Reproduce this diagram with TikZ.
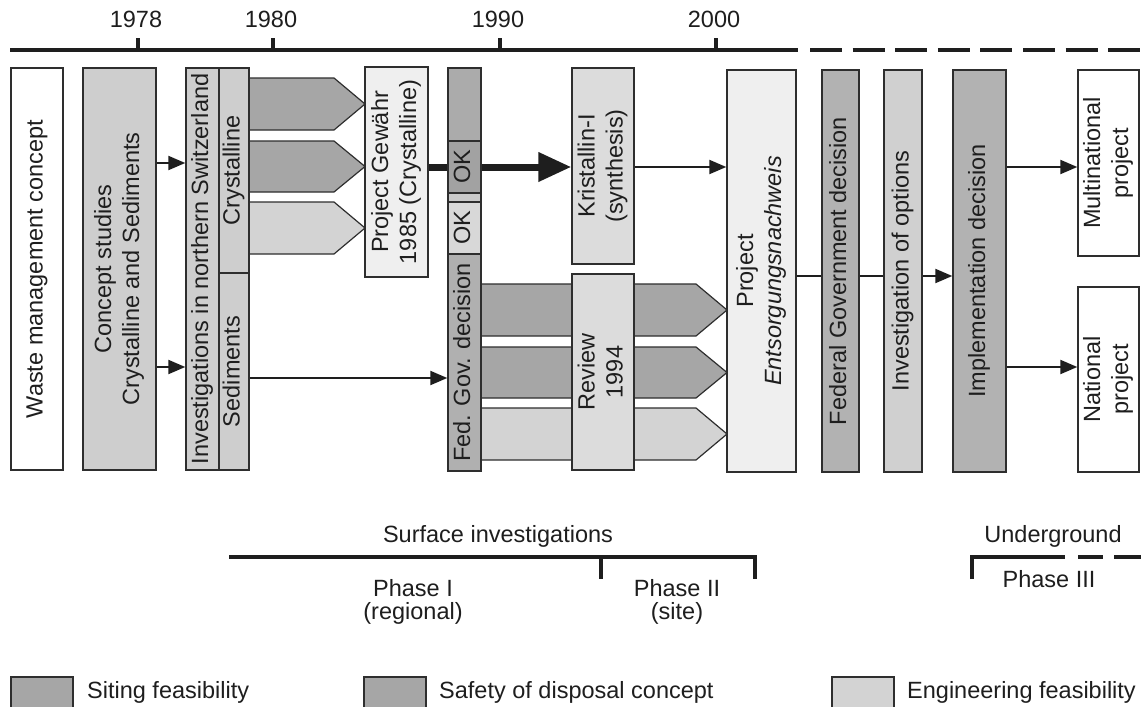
\documentclass[tikz,border=0pt]{standalone}
\usepackage{fontspec}
\setmainfont{Liberation Sans}
\usepackage{graphicx}
\usetikzlibrary{arrows.meta}
\definecolor{bord}{HTML}{2E2E2E}
\definecolor{txt}{HTML}{1E1E1E}
\definecolor{gA}{HTML}{A6A6A6}
\definecolor{gB}{HTML}{D3D3D3}
\definecolor{gC}{HTML}{CECECE}
\definecolor{gD}{HTML}{EFEFEF}
\definecolor{gE}{HTML}{DCDCDC}
\definecolor{gF}{HTML}{B2B2B2}
\definecolor{gG}{HTML}{D0D0D0}
\definecolor{fTop}{HTML}{ABABAB}
\definecolor{fOkA}{HTML}{A2A2A2}
\definecolor{fStrip}{HTML}{C9C9C9}
\definecolor{fOkB}{HTML}{D8D8D8}
\definecolor{fDec}{HTML}{B0B0B0}
\newcommand\rot[1]{\rotatebox{90}{\begin{tabular}{@{}c@{}}#1\end{tabular}}}
\begin{document}
\begin{tikzpicture}[x=1pt,y=-1pt,
  font=\fontsize{23.5}{28}\selectfont, text=txt,
  box/.style={draw=bord, line width=1.4pt, inner sep=0pt},
  chev/.style={draw=bord, line width=1.2pt},
  arr/.style={draw=txt, line width=2pt, -{Triangle[length=17pt,width=14pt]}},
  thickarr/.style={draw=txt, line width=7pt, -{Triangle[length=33pt,width=28pt]}},
  plain/.style={draw=txt, line width=2pt},
  tl/.style={draw=txt, line width=3.6pt},
  lbl/.style={inner sep=0pt}]
\clip (0,0) rectangle (1141,707);
\fill[white] (0,0) rectangle (1141,707);

% timeline
\draw[tl] (10,50) -- (798,50);
\draw[tl, dash pattern=on 32pt off 10.6pt] (810,50) -- (1141,50);
\foreach \xx/\yy in {138/1978, 273/1980, 500/1990, 716/2000}{
  \draw[draw=txt, line width=3.2pt] (\xx,50) -- (\xx,38);
  \node[lbl] (year\yy) at (\xx-2,19) {\yy};
}

% chevrons (upper)
\foreach \ta/\tb/\cc in {78/130/gA, 141/192/gA, 202/254/gB}{
  \path[chev, fill=\cc] (249,\ta) -- (334,\ta) -- (365,{(\ta+\tb)/2}) -- (334,\tb) -- (249,\tb) -- cycle;
}
% chevrons (lower)
\foreach \ta/\tb/\cc in {284/336/gA, 347/398/gA, 408/460/gB}{
  \path[chev, fill=\cc] (481,\ta) -- (696,\ta) -- (727,{(\ta+\tb)/2}) -- (696,\tb) -- (481,\tb) -- cycle;
}

% boxes
\node[box, fill=white, minimum width=52pt, minimum height=402pt] (waste) at (37,269) {\rot{Waste management concept}};
\node[box, fill=gC, minimum width=73pt, minimum height=402pt] (concept) at (119.5,269) {\rot{Concept studies\\Crystalline and Sediments}};
\node[box, fill=gC, minimum width=33pt, minimum height=402pt] (invest) at (202.5,269) {\rot{Investigations in northern Switzerland}};
\node[box, fill=gC, minimum width=30pt, minimum height=205pt] (cryst) at (234,170.5) {\rot{Crystalline}};
\node[box, fill=gC, minimum width=30pt, minimum height=197pt] (sedim) at (234,371.5) {\rot{Sediments}};
\node[box, fill=gD, minimum width=63pt, minimum height=210pt] (gewahr) at (396.5,172) {\rot{Project Gewähr\\1985 (Crystalline)}};

\node[box, fill=gE, minimum width=62pt, minimum height=196pt] (krist) at (603,166) {\rot{Kristallin-I\\(synthesis)}};
\draw[thickarr] (gewahr.east |- 0,167) -- (krist.west |- 0,167);

% Fed. Gov. column
\node[box, fill=fTop, minimum width=33pt, minimum height=73pt] (fgtop) at (464.5,104.5) {};
\node[box, fill=fOkA, minimum width=33pt, minimum height=52pt] (okA) at (464.5,167) {\rot{OK}};
\node[box, fill=fStrip, minimum width=33pt, minimum height=9pt] (strip) at (464.5,197.5) {};
\node[box, fill=fOkB, minimum width=33pt, minimum height=52pt] (okB) at (464.5,228) {\rot{OK}};
\node[box, fill=fDec, minimum width=33pt, minimum height=217pt] (fgd) at (464.5,362.5) {\rot{Fed. Gov. decision}};

\node[box, fill=gE, minimum width=62pt, minimum height=196pt] (review) at (603,372) {\rot{Review\\1994}};
\node[box, fill=gD, minimum width=69pt, minimum height=402pt] (entsorg) at (761.5,271) {\rot{Project\\\textit{Entsorgungsnachweis}}};
\node[box, fill=gF, minimum width=37pt, minimum height=402pt] (fedgov) at (840.5,271) {\rot{Federal Government decision}};
\node[box, fill=gG, minimum width=38pt, minimum height=402pt] (invopt) at (903,271) {\rot{Investigation of options}};
\node[box, fill=gF, minimum width=53pt, minimum height=402pt] (impl) at (979.5,271) {\rot{Implementation decision}};
\node[box, fill=white, minimum width=61pt, minimum height=186pt] (multi) at (1108.5,163) {\rot{Multinational\\project}};
\node[box, fill=white, minimum width=61pt, minimum height=185pt] (national) at (1108.5,379.5) {\rot{National\\project}};

% connectors
\draw[arr] (concept.east |- 0,163) -- (invest.west |- 0,163);
\draw[arr] (concept.east |- 0,367) -- (invest.west |- 0,367);
\draw[arr] (sedim.east |- 0,378) -- (fgd.west |- 0,378);
\draw[arr] (krist.east |- 0,167) -- (entsorg.west |- 0,167);
\draw[plain] (entsorg.east |- 0,276) -- (fedgov.west |- 0,276);
\draw[plain] (fedgov.east |- 0,276) -- (invopt.west |- 0,276);
\draw[arr] (invopt.east |- 0,276) -- (impl.west |- 0,276);
\draw[arr] (impl.east |- 0,167) -- (multi.west |- 0,167);
\draw[arr] (impl.east |- 0,367) -- (national.west |- 0,367);

% phases
\node[lbl] (surf) at (498,536) {Surface investigations};
\draw[tl, line join=miter] (229,557) -- (755,557) -- (755,579);
\draw[tl] (601,557) -- (601,579);
\node[lbl] (ph1) at (413,588) {Phase I};
\node[lbl] (ph1b) at (413,613) {(regional)};
\node[lbl] (ph2) at (677,588) {Phase II};
\node[lbl] (ph2b) at (677,613) {(site)};
\node[lbl] (under) at (1053,536) {Underground};
\draw[tl, line join=miter] (972,579) -- (972,557) -- (1065,557);
\draw[tl] (1078,557) -- (1103,557);
\draw[tl] (1114,557) -- (1141,557);
\node[lbl] (ph3) at (1049,579) {Phase III};

% legend
\node[box, fill=gA, minimum width=62pt, minimum height=40pt] (leg1) at (42,697) {};
\node[lbl, anchor=west] (leg1t) at (87,692) {Siting feasibility};
\node[box, fill=gA, minimum width=62pt, minimum height=40pt] (leg2) at (395,697) {};
\node[lbl, anchor=west] (leg2t) at (439,692) {Safety of disposal concept};
\node[box, fill=gB, minimum width=62pt, minimum height=40pt] (leg3) at (863,697) {};
\node[lbl, anchor=west] (leg3t) at (907,692) {Engineering feasibility};
\end{tikzpicture}
\end{document}
